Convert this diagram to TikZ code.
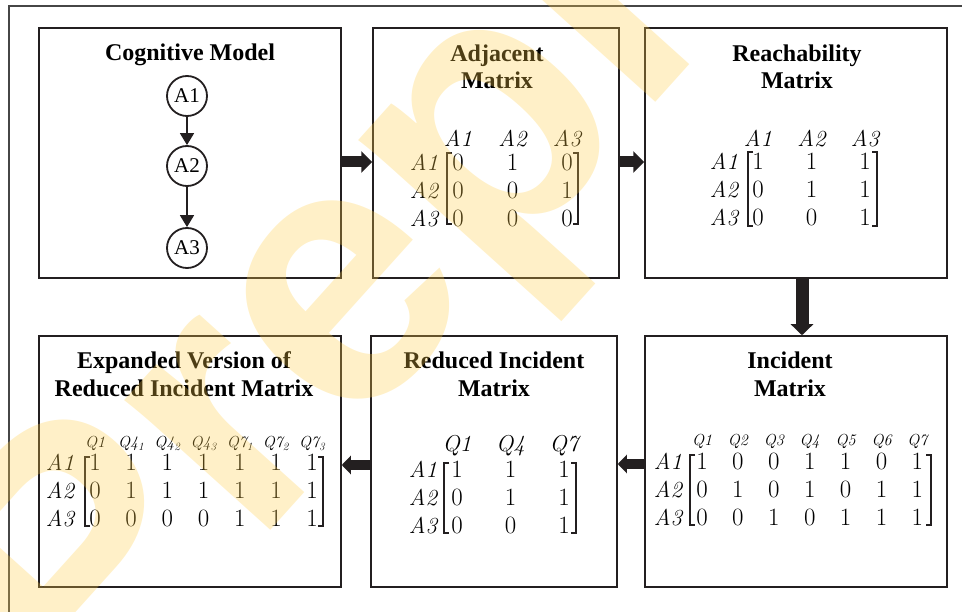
\documentclass[tikz,border=0pt]{standalone}
\usepackage{fontspec}
\usetikzlibrary{arrows.meta}
\newfontfamily\headfont{Liberation Serif}
\newfontfamily\markfont{Liberation Sans}
\definecolor{ink}{RGB}{35,31,32}
\definecolor{framegray}{RGB}{70,70,70}
\definecolor{markyellow}{RGB}{255,205,72}

\tikzset{
  panel/.style={draw=ink, line width=1.5pt, minimum width=#1, minimum height=250pt, inner sep=0pt},
  title/.style={font=\headfont\bfseries\fontsize{24}{28}\selectfont, anchor=base, inner sep=0pt},
  state/.style={circle, draw=ink, line width=1.8pt, minimum size=40pt, inner sep=0pt,
                font=\headfont\fontsize{21}{21}\selectfont},
  flow/.style={ink, line width=1.8pt, -{Triangle[width=14pt,length=12pt]}},
  blockarrow/.style={ink, line width=#1, -{Triangle[width=21pt,length=11pt]}},
  mcell/.style={anchor=base, inner sep=0pt, font=\fontsize{24}{24}\selectfont},
  mhead/.style={anchor=base, inner sep=0pt, font=\fontsize{23}{23}\selectfont},
  mheadsmall/.style={anchor=base, inner sep=0pt, font=\fontsize{16}{16}\selectfont},
  bracket/.style={ink, line width=1.3pt},
}

\begin{document}
\begin{tikzpicture}[x=1pt, y=-1pt]
\useasboundingbox (0,0) rectangle (962,612);

% outer frame (only top and left edges fall on the page)
\draw[framegray, line width=2pt] (9,620) -- (9,6) -- (970,6);

% panels
\node[panel=302pt] (b1) at (190,153) {};
\node[panel=246pt] (b2) at (496,153) {};
\node[panel=302pt] (b3) at (796,153) {};
\node[panel=302pt, minimum height=251pt] (b4) at (190,461.5) {};
\node[panel=246pt, minimum height=251pt] (b5) at (494,461.5) {};
\node[panel=302pt, minimum height=251pt] (b6) at (796,461.5) {};

% titles
\node[title] (t1) at (190,61) {Cognitive Model};
\node[title] (t2a) at (497,62) {Adjacent};
\node[title] (t2b) at (497,89) {Matrix};
\node[title] (t3a) at (797,62) {Reachability};
\node[title] (t3b) at (797,89) {Matrix};
\node[title] (t4a) at (184,369) {Expanded Version of};
\node[title] (t4b) at (184,397) {Reduced Incident Matrix};
\node[title] (t5a) at (494,369) {Reduced Incident};
\node[title] (t5b) at (494,397) {Matrix};
\node[title] (t6a) at (790,369) {Incident};
\node[title] (t6b) at (790,397) {Matrix};

% cognitive model graph
\node[state] (A1) at (187,96) {A1};
\node[state] (A2) at (187,166) {A2};
\node[state] (A3) at (187,248) {A3};
\draw[flow] (A1) -- (A2);
\draw[flow] (A2) -- (A3);

% adjacent matrix
\foreach \h [count=\c] in {A1,A2,A3}
  \node[mhead] (adj-h\c) at ({458+(\c-1)*54.5},147) {$\mathit{\h}$};
\foreach \vals [count=\r] in {{0,1,0},{0,0,1},{0,0,0}} {
  \node[mhead] (adj-l\r) at (424,{171+(\r-1)*28}) {$\mathit{A\r}$};
  \foreach \v [count=\c] in \vals
    \node[mcell] (adj-\r-\c) at ({458+(\c-1)*54.5},{171+(\r-1)*28}) {$\v$};
}
\draw[bracket] (452,153) -| (447,224) -- (452,224);
\draw[bracket] (573,153) -| (578,224) -- (573,224);

% reachability matrix
\foreach \h [count=\c] in {A1,A2,A3}
  \node[mhead] (rea-h\c) at ({758+(\c-1)*53.5},147) {$\mathit{\h}$};
\foreach \vals [count=\r] in {{1,1,1},{0,1,1},{0,0,1}} {
  \node[mhead] (rea-l\r) at (724,{170+(\r-1)*28}) {$\mathit{A\r}$};
  \foreach \v [count=\c] in \vals
    \node[mcell] (rea-\r-\c) at ({758+(\c-1)*53.5},{170+(\r-1)*28}) {$\v$};
}
\draw[bracket] (753,152) -| (748,226) -- (753,226);
\draw[bracket] (872,152) -| (877,226) -- (872,226);

% incident matrix
\foreach \h [count=\c] in {Q1,Q2,Q3,Q4,Q5,Q6,Q7}
  \node[mheadsmall] (inc-h\c) at ({702+(\c-1)*35.9},446) {$\mathit{\h}$};
\foreach \vals [count=\r] in {{1,0,0,1,1,0,1},{0,1,0,1,0,1,1},{0,0,1,0,1,1,1}} {
  \node[mhead] (inc-l\r) at (668,{470+(\r-1)*27.5}) {$\mathit{A\r}$};
  \foreach \v [count=\c] in \vals
    \node[mcell] (inc-\r-\c) at ({702+(\c-1)*35.9},{470+(\r-1)*27.5}) {$\v$};
}
\draw[bracket] (695,455) -| (690,525) -- (695,525);
\draw[bracket] (926,455) -| (931,525) -- (926,525);

% reduced incident matrix
\foreach \h [count=\c] in {Q1,Q4,Q7}
  \node[mhead] (red-h\c) at ({457+(\c-1)*53.5},452) {$\mathit{\h}$};
\foreach \vals [count=\r] in {{1,1,1},{0,1,1},{0,0,1}} {
  \node[mhead] (red-l\r) at (423,{478+(\r-1)*27.5}) {$\mathit{A\r}$};
  \foreach \v [count=\c] in \vals
    \node[mcell] (red-\r-\c) at ({457+(\c-1)*53.5},{478+(\r-1)*27.5}) {$\v$};
}
\draw[bracket] (449,463) -| (444,533) -- (449,533);
\draw[bracket] (571,463) -| (576,533) -- (571,533);

% expanded version of the reduced incident matrix
\foreach \h [count=\c] in {Q1,Q4_1,Q4_2,Q4_3,Q7_1,Q7_2,Q7_3}
  \node[mheadsmall] (exp-h\c) at ({95+(\c-1)*36.2},448) {$\mathit{\h}$};
\foreach \vals [count=\r] in {{1,1,1,1,1,1,1},{0,1,1,1,1,1,1},{0,0,0,0,1,1,1}} {
  \node[mhead] (exp-l\r) at (60,{471+(\r-1)*27.5}) {$\mathit{A\r}$};
  \foreach \v [count=\c] in \vals
    \node[mcell] (exp-\r-\c) at ({95+(\c-1)*36.2},{471+(\r-1)*27.5}) {$\v$};
}
\draw[bracket] (90,457) -| (85,526) -- (90,526);
\draw[bracket] (318,457) -| (323,526) -- (318,526);

% block arrows between the panels
\draw[blockarrow=11pt] ([yshift=-9pt]b1.east) -- ([yshift=-9pt]b2.west);
\draw[blockarrow=11pt] ([yshift=-9pt]b2.east) -- ([yshift=-9pt]b3.west);
\draw[ink, line width=13pt, -{Triangle[width=22pt,length=11pt]}] ([xshift=6pt]b3.south) -- ([xshift=6pt]b6.north);
\draw[ink, line width=10pt, -{Triangle[width=18pt,length=9pt]}] ([yshift=-2.5pt]b6.west) -- ([yshift=-2.5pt]b5.east);
\draw[ink, line width=10pt, -{Triangle[width=18pt,length=9pt]}] ([yshift=-3.5pt]b5.west) -- ([yshift=-3.5pt]b4.east);

% translucent watermark on top
\begin{scope}
\clip (0,0) rectangle (962,612);
\node[anchor=base west, rotate=48, inner sep=0pt, text=markyellow, text opacity=0.3,
      font=\markfont\bfseries\fontsize{370}{370}\selectfont] (mark) at (88,733) {Preprint};
\end{scope}
\end{tikzpicture}
\end{document}
